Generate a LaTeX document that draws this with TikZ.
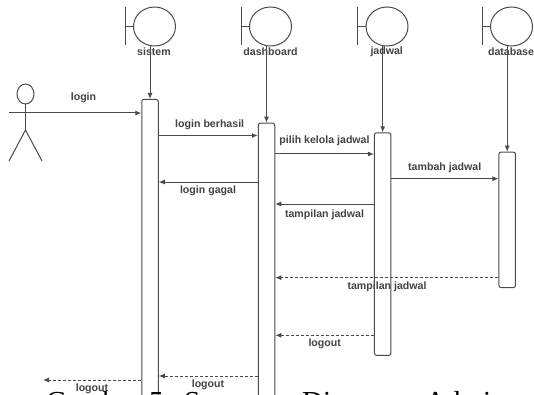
\documentclass[tikz,border=0pt]{standalone}
\usepackage{fontspec}
\setmainfont{Liberation Serif}
\newfontfamily\lblfont{Liberation Sans}
\usetikzlibrary{arrows.meta,shapes.geometric}
\definecolor{ln}{HTML}{4A4A4A}
\tikzset{x=1pt,y=-1pt,
 lbl/.style={font=\lblfont\fontsize{10.6}{12}\selectfont\bfseries,text=ln!90!black,inner sep=0pt},
 bar/.style={draw=ln,line width=1pt,rounded corners=2pt,fill=white,minimum width=16.5pt,inner sep=0pt},
 msg/.style={draw=ln,line width=1pt,-{Latex[length=6pt,width=5pt]}},
 ret/.style={msg,dash pattern=on 3pt off 2pt},
 bnd/.style={draw=ln,line width=1pt},
 capt/.style={font=\fontsize{29}{32}\selectfont,anchor=base west,inner sep=0pt,text=black}}
\newcommand{\boundary}[4]{%
 \node[draw=ln,line width=1pt,ellipse,minimum width=42pt,minimum height=39pt,inner sep=0pt] (#1) at (#2,26.5) {};
 \coordinate (#1top) at (#2-29.5,7);
 \coordinate (#1bot) at (#2-29.5,45.5);
 \coordinate (#1mid) at (#2-29.5,26.5);
 \draw[bnd] (#1top) -- (#1bot);
 \draw[bnd] (#1mid) -- (#1.west);
 \node[lbl] (#1t) at (#3,52) {#4};
}
\begin{document}
\begin{tikzpicture}
\useasboundingbox (0,0) rectangle (534,395);
\fill[white] (0,0) rectangle (534,395);
\boundary{sis}{154.5}{154}{sistem}
\boundary{das}{270.5}{270.5}{dashboard}
\boundary{jad}{387}{386.7}{jadwal}
\boundary{dab}{511.5}{511}{database}
% activation bars
\node[bar,minimum height=310pt,anchor=north] (b1) at (150,99) {};
\node[bar,minimum height=290pt,anchor=north] (b2) at (266.5,122.7) {};
\node[bar,minimum height=222.5pt,anchor=north] (b3) at (382.7,132.3) {};
\node[bar,minimum height=135.3pt,anchor=north] (b4) at (507.2,151.7) {};
% lifelines
\coordinate (l1) at (150,45.5);
\coordinate (l2) at (266.5,45.5);
\coordinate (l3) at (382.7,45.5);
\coordinate (l4) at (507.2,45.5);
\draw[msg] (l1) -- (b1.north);
\draw[msg] (l2) -- (b2.north);
\draw[msg] (l3) -- (b3.north);
\draw[msg] (l4) -- (b4.north);
% actor
\node[draw=ln,line width=1pt,ellipse,minimum width=17pt,minimum height=20pt,inner sep=0pt] (ah) at (25.5,94) {};
\coordinate (ab) at (25.5,130);
\coordinate (al) at (9,161);
\coordinate (ar) at (42,161);
\coordinate (ahs) at (9,113);
\draw[bnd] (ah.south) -- (ab);
\draw[bnd] (al) -- (ab) -- (ar);
\draw[msg] (ahs) -- (b1.west |- ahs);
\node[lbl] (t1) at (83.5,98) {login};
% messages
\coordinate (m2) at (0,135.5);
\draw[msg] (b1.east |- m2) -- (b2.west |- m2);
\node[lbl] (t2) at (209.7,124.3) {login berhasil};
\coordinate (m3) at (0,182);
\draw[msg] (b2.west |- m3) -- (b1.east |- m3);
\node[lbl] (t3) at (208,190.3) {login gagal};
\coordinate (m4) at (0,154);
\draw[msg] (b2.east |- m4) -- (b3.west |- m4);
\node[lbl] (t4) at (324.5,140.7) {pilih kelola jadwal};
\coordinate (m5) at (0,178.7);
\draw[msg] (b3.east |- m5) -- (b4.west |- m5);
\node[lbl] (t5) at (444.7,167.7) {tambah jadwal};
\coordinate (m6) at (0,204);
\draw[msg] (b3.west |- m6) -- (b2.east |- m6);
\node[lbl] (t6) at (324.5,214.7) {tampilan jadwal};
\coordinate (m7) at (0,277.7);
\draw[ret] (b4.west |- m7) -- (b2.east |- m7);
\node[lbl] (t7) at (387,286.7) {tampilan jadwal};
\coordinate (m8) at (0,335.3);
\draw[ret] (b3.west |- m8) -- (b2.east |- m8);
\node[lbl] (t8) at (324.7,343.7) {logout};
\coordinate (m9) at (0,376);
\draw[ret] (b2.west |- m9) -- (b1.east |- m9);
\node[lbl] (t9) at (208,385) {logout};
\coordinate (m10) at (0,380);
\coordinate (e10) at (43,380);
\draw[ret] (b1.west |- m10) -- (e10);
\node[lbl] (t10) at (92,388.7) {logout};
% caption, cut by the lower edge as in the reference
\node[capt] (cap) at (46,411.5) {\makebox[103pt][l]{Gambar}\makebox[35pt][l]{5}\makebox[118pt][l]{Sequence}\makebox[123pt][l]{Diagram}Admin};
\end{tikzpicture}
\end{document}
